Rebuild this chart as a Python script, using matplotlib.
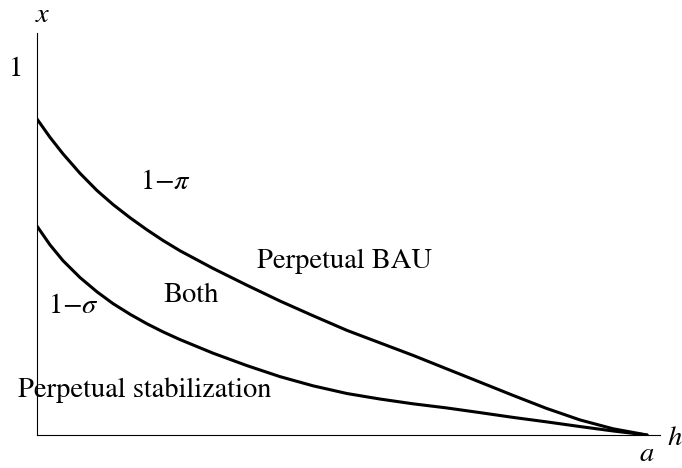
import numpy as np
import matplotlib
matplotlib.use('Agg')
import matplotlib.pyplot as plt

plt.rcParams['font.family'] = 'STIXGeneral'
plt.rcParams['mathtext.fontset'] = 'stix'

# curve values (h scaled so that a = 1)
h_pts = [0.0, 0.0213, 0.0426, 0.0705, 0.0984, 0.1246, 0.1525, 0.1803, 0.2066, 0.2344,
         0.2885, 0.3443, 0.3984, 0.4525, 0.5082, 0.5623, 0.6164, 0.6705, 0.7262,
         0.7803, 0.8344, 0.8902, 0.9443, 1.0]
# 1 - pi  (upper boundary)
x_upper = [0.861, 0.811, 0.766, 0.713, 0.666, 0.628, 0.592, 0.559, 0.530, 0.502,
           0.454, 0.408, 0.365, 0.325, 0.285, 0.251, 0.217, 0.181, 0.144,
           0.108, 0.073, 0.041, 0.017, 0.0]
# 1 - sigma  (lower boundary)
x_lower = [0.569, 0.518, 0.475, 0.429, 0.390, 0.358, 0.329, 0.303, 0.281, 0.260,
           0.223, 0.189, 0.159, 0.134, 0.113, 0.098, 0.085, 0.074, 0.061,
           0.048, 0.036, 0.023, 0.011, 0.0]

fig = plt.figure(figsize=(6.82, 4.68), dpi=100)
ax = fig.add_axes([0.0543, 0.0705, 0.9135, 0.859])

ax.plot(h_pts, x_upper, color='k', lw=2.2, solid_joinstyle='round', solid_capstyle='round')
ax.plot(h_pts, x_lower, color='k', lw=2.2, solid_joinstyle='round', solid_capstyle='round')

ax.set_xlim(0, 1.0213)
ax.set_ylim(0, 1.0954)
for s in ['top', 'right']:
    ax.spines[s].set_visible(False)
ax.spines['left'].set_linewidth(0.8)
ax.spines['bottom'].set_linewidth(0.8)
ax.set_xticks([])
ax.set_yticks([])

fs = 20.5
ax.text(0.169, 0.687, r'$1{-}\pi$', fontsize=fs, va='center', ha='left')
ax.text(0.361, 0.474, 'Perpetual BAU', fontsize=fs, va='center', ha='left')
ax.text(0.207, 0.379, 'Both', fontsize=fs, va='center', ha='left')
ax.text(0.018, 0.351, r'$1{-}\sigma$', fontsize=fs, va='center', ha='left')
ax.text(-0.031, 0.123, 'Perpetual stabilization', fontsize=fs, va='center', ha='left')

ax.text(0.0098, 1.144, r'$x$', fontsize=fs, va='center', ha='center', clip_on=False)
ax.text(-0.034, 0.995, '1', fontsize=fs, va='center', ha='center', clip_on=False)
ax.text(1.033, -0.008, r'$h$', fontsize=fs, va='center', ha='left', clip_on=False)
ax.text(1.0, -0.054, r'$a$', fontsize=fs, va='center', ha='center', clip_on=False)

fig.savefig('out.png', dpi=100)
